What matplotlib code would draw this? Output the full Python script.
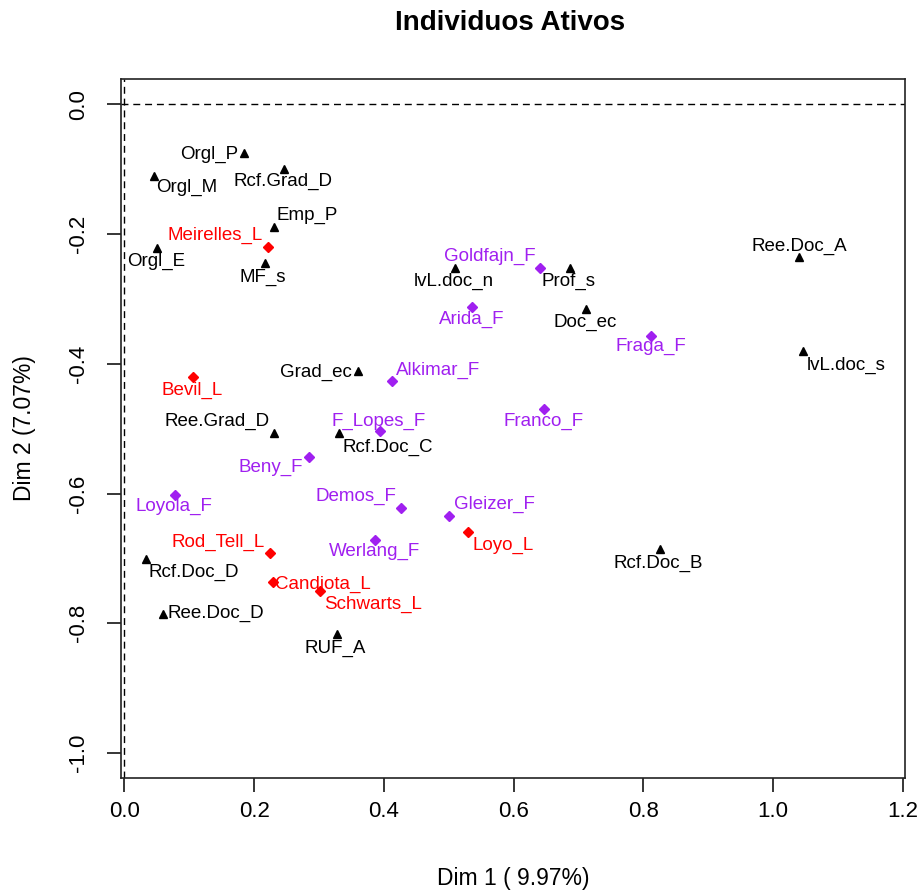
import matplotlib
matplotlib.use("Agg")
import matplotlib.pyplot as plt

plt.rcParams["font.family"] = ["Liberation Sans", "DejaVu Sans"]

# Category coordinates (black triangles)
cat_labels = ["Orgl_P", "Rcf.Grad_D", "Orgl_M", "Emp_P", "Orgl_E", "MF_s",
              "lvL.doc_n", "Prof_s", "Ree.Doc_A", "Doc_ec", "lvL.doc_s",
              "Grad_ec", "Ree.Grad_D", "Rcf.Doc_C", "Rcf.Doc_D", "Ree.Doc_D",
              "RUF_A", "Rcf.Doc_B"]
cat_dim1 = [0.185, 0.246, 0.045, 0.230, 0.050, 0.216,
            0.509, 0.687, 1.040, 0.711, 1.046,
            0.360, 0.230, 0.331, 0.034, 0.059,
            0.327, 0.825]
cat_dim2 = [-0.075, -0.100, -0.110, -0.189, -0.221, -0.244,
            -0.252, -0.252, -0.235, -0.316, -0.381,
            -0.411, -0.506, -0.506, -0.701, -0.785,
            -0.817, -0.686]

# Individuals, group F (purple diamonds)
f_labels = ["Goldfajn_F", "Arida_F", "Fraga_F", "Franco_F", "Alkimar_F",
            "F_Lopes_F", "Beny_F", "Loyola_F", "Demos_F", "Gleizer_F",
            "Werlang_F"]
f_dim1 = [0.641, 0.536, 0.812, 0.647, 0.413,
          0.394, 0.284, 0.078, 0.426, 0.500,
          0.387]
f_dim2 = [-0.252, -0.312, -0.357, -0.470, -0.426,
          -0.504, -0.543, -0.602, -0.623, -0.634,
          -0.672]

# Individuals, group L (red diamonds)
l_labels = ["Meirelles_L", "Bevil_L", "Rod_Tell_L", "Loyo_L", "Candiota_L",
            "Schwarts_L"]
l_dim1 = [0.222, 0.105, 0.225, 0.530, 0.229, 0.301]
l_dim2 = [-0.220, -0.421, -0.692, -0.659, -0.737, -0.751]

x_ticks = [0.0, 0.2, 0.4, 0.6, 0.8, 1.0, 1.2]
x_ticklabels = ["0.0", "0.2", "0.4", "0.6", "0.8", "1.0", "1.2"]
y_ticks = [0.0, -0.2, -0.4, -0.6, -0.8, -1.0]
y_ticklabels = ["0.0", "-0.2", "-0.4", "-0.6", "-0.8", "-1.0"]

# Label placement: (dx right, dy down) in pixels from each point
label_shift = {
    "Orgl_P": (-35, 1.6), "Rcf.Grad_D": (-1.4, 12.4), "Orgl_M": (33.4, 12),
    "Emp_P": (34, -11.4), "Orgl_E": (-0.7, 13.3), "MF_s": (-1.4, 14.4),
    "lvL.doc_n": (-1, 14), "Prof_s": (-1.7, 14), "Ree.Doc_A": (0, -10),
    "Doc_ec": (0, 13.4), "lvL.doc_s": (43, 14), "Grad_ec": (-41.7, 1.6),
    "Ree.Grad_D": (-57, -11.3), "Rcf.Doc_C": (49, 14.4),
    "Rcf.Doc_D": (47.3, 13.6), "Ree.Doc_D": (52.7, 0), "RUF_A": (-1, 14),
    "Rcf.Doc_B": (-1.4, 14),
    "Goldfajn_F": (-50, -11.7), "Arida_F": (0, 12.6), "Fraga_F": (0, 10.7),
    "Franco_F": (-1, 12.7), "Alkimar_F": (45.7, -10.7),
    "F_Lopes_F": (-1.3, -10), "Beny_F": (-37.6, 10.6), "Loyola_F": (-1, 12),
    "Demos_F": (-45, -11.6), "Gleizer_F": (45.3, -10.7),
    "Werlang_F": (-1, 11.4),
    "Meirelles_L": (-53, -11.3), "Bevil_L": (0, 13.4),
    "Rod_Tell_L": (-52, -11), "Loyo_L": (34.7, 13.3),
    "Candiota_L": (50.3, 1.6), "Schwarts_L": (53, 13.3),
}

W, H = 917, 891
fig = plt.figure(figsize=(W / 100, H / 100), dpi=100)
left, right, top, bottom = 120.7, 905.0, 79.0, 778.3
ax = fig.add_axes([left / W, 1 - bottom / H, (right - left) / W, (bottom - top) / H])

ax.set_xlim(-0.0057, 1.2033)
ax.set_ylim(-1.039, 0.039)

ax.axhline(0, color="black", lw=1.0, ls=(0, (5, 3.5)), zorder=1)
ax.axvline(0, color="black", lw=1.0, ls=(0, (5, 3.5)), zorder=1)

PURPLE = "#A020F0"
RED = "#FF0000"

ax.plot(cat_dim1, cat_dim2, ls="none", marker="^", ms=6.2, color="black", zorder=3)
ax.plot(f_dim1, f_dim2, ls="none", marker="D", ms=4.8, color=PURPLE, zorder=3)
ax.plot(l_dim1, l_dim2, ls="none", marker="D", ms=4.8, color=RED, zorder=3)

def put_labels(labels, xs, ys, color):
    for name, x, y in zip(labels, xs, ys):
        dx, dy = label_shift[name]
        ax.annotate(name, (x, y), xytext=(dx, -dy), textcoords="offset pixels",
                    ha="center", va="center", fontsize=13.5, color=color,
                    zorder=4, annotation_clip=False)

put_labels(cat_labels, cat_dim1, cat_dim2, "black")
put_labels(f_labels, f_dim1, f_dim2, PURPLE)
put_labels(l_labels, l_dim1, l_dim2, RED)

for s in ax.spines.values():
    s.set_linewidth(1.2)
    s.set_color("#222222")

ax.set_xticks(x_ticks)
ax.set_xticklabels(x_ticklabels)
ax.set_yticks(y_ticks)
ax.set_yticklabels(y_ticklabels, rotation=90, va="center")
ax.tick_params(axis="both", direction="out", length=10, width=1.1,
               labelsize=16, color="black")
ax.tick_params(axis="x", pad=6)
ax.tick_params(axis="y", pad=13)

fig.text(513 / W, 1 - 878 / H, "Dim 1 ( 9.97%)", ha="center", va="center",
         fontsize=16.5)
fig.text(25 / W, 1 - 428.5 / H, "Dim 2 (7.07%)", ha="center", va="center",
         rotation=90, fontsize=16.5)
fig.text(510 / W, 1 - 23 / H, "Individuos Ativos", ha="center", va="center",
         fontsize=20, fontweight="bold")

fig.savefig("out.png", dpi=100, facecolor="white")
